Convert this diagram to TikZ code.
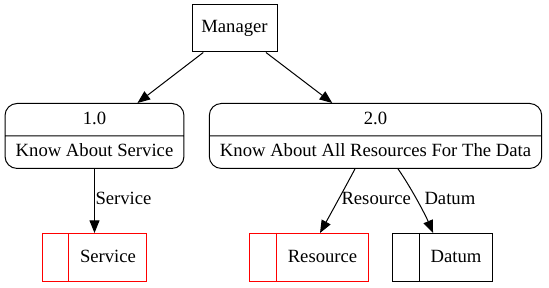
\documentclass[tikz,border=0pt]{standalone}
\usepackage{fontspec}
\setmainfont{Liberation Serif}
\usetikzlibrary{shapes.multipart,arrows.meta}

\begin{document}
\begin{tikzpicture}[x=0.75pt,y=-0.75pt,
  line width=0.75pt,
  font=\fontsize{14}{17}\selectfont,
  >={Triangle[length=9.5pt,width=7.5pt]}]

% Colori
\definecolor{bordoRosso}{HTML}{FF0000}

\tikzset{
  entita/.style={draw, rectangle, minimum width=63.75pt, minimum height=35.25pt, inner sep=0pt},
  processo/.style={draw, rectangle split, rectangle split parts=2, rounded corners=9pt,
    inner xsep=8pt, inner ysep=3.3pt, anchor=north},
  archivio/.style={draw, rectangle, minimum height=36pt, inner xsep=8.25pt, anchor=north},
  etichetta/.style={anchor=west, inner sep=0pt}
}

% Divisorio dell'archivio
\def\sep{20.25pt}

% Area del disegno
\useasboundingbox (0,0) rectangle (549,288);

% Entita' esterna
\node[entita] (mgr) at (234.5,28.5) {Manager};

% Processi
\node[processo] (p1) at (94.5,103) {\strut 1.0 \nodepart{two}\strut Know About Service};
\node[processo] (p2) at (375.5,103) {\strut 2.0 \nodepart{two}\strut Know About All Resources For The Data};

% Archivi dati
\node[archivio, draw=bordoRosso] (svc) at (94.5,233) {\hspace{\sep}\strut Service};
\node[archivio, draw=bordoRosso] (res) at (309,233) {\hspace{\sep}\strut Resource};
\node[archivio] (dat) at (442.5,233) {\hspace{\sep}\strut Datum};
\draw[bordoRosso] ([xshift=\sep]svc.north west) -- ([xshift=\sep]svc.south west);
\draw[bordoRosso] ([xshift=\sep]res.north west) -- ([xshift=\sep]res.south west);
\draw ([xshift=\sep]dat.north west) -- ([xshift=\sep]dat.south west);

% Flussi
\draw[->] (mgr) -- (p1);
\draw[->] (mgr) -- (p2);
\draw[->] (p1) -- (svc);
\draw[->] ([xshift=-15.4pt]p2.south) .. controls +(-9,17) and +(10,-18) .. ([xshift=8.25pt]res.north);
\draw[->] ([xshift=16.9pt]p2.south) .. controls +(12,17) and +(-8,-19) .. ([xshift=-7.1pt]dat.north);

% Etichette dei flussi
\node[etichetta] (lsvc) at (95,198) {Service};
\node[etichetta] (lres) at (341,198) {Resource};
\node[etichetta] (ldat) at (424,198) {Datum};

\end{tikzpicture}
\end{document}
